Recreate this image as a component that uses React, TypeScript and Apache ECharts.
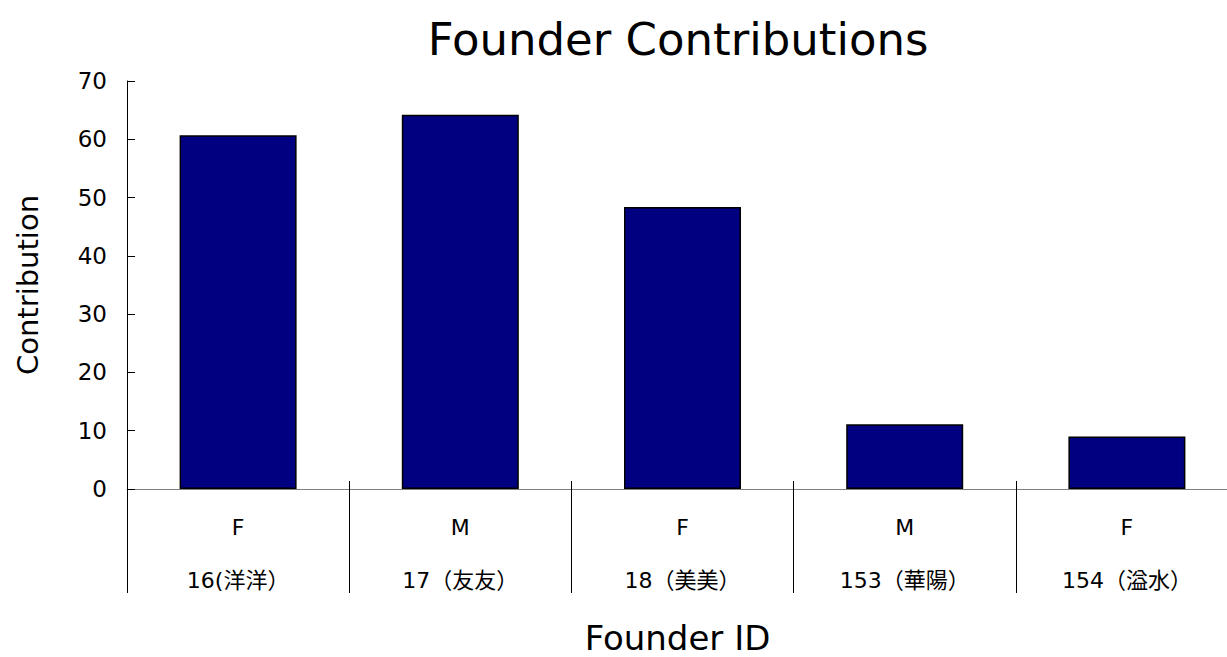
import React, { useEffect, useRef } from "react";
import * as echarts from "echarts";

const genders = ["F", "M", "F", "M", "F"];
const founderIds = ["16(洋洋）", "17（友友）", "18（美美）", "153（華陽）", "154（溢水）"];
const contributions = [60.7, 64.2, 48.4, 11.1, 9.0];
const yTicks = { min: 0, max: 70, interval: 10 };

const FONT = "'DejaVu Sans', 'Noto Sans CJK JP', sans-serif";

export default function App() {
  const ref = useRef<HTMLDivElement>(null);
  useEffect(() => {
    if (!ref.current) return;
    const chart = echarts.init(ref.current, undefined, { renderer: "svg" });
    const categories = genders.map((g, i) => `${g}\n${founderIds[i]}`);
    chart.setOption({
      animation: false,
      backgroundColor: "#ffffff",
      title: {
        text: "Founder Contributions",
        left: 673,
        top: 12,
        textAlign: "center",
        textStyle: { fontFamily: FONT, fontSize: 45, fontWeight: "normal", color: "#000" },
      },
      grid: {
        left: 127,
        top: 81,
        height: 408,
        width: 1111,
        containLabel: false,
        outerBoundsMode: "none",
      },
      xAxis: [
        {
          type: "category",
          data: categories,
          boundaryGap: true,
          axisLine: { show: true, lineStyle: { color: "#808080", width: 1 } },
          axisTick: { show: true, inside: false, length: 104, lineStyle: { color: "#000", width: 1 } },
          axisLabel: {
            fontFamily: FONT,
            fontSize: 22,
            color: "#000",
            lineHeight: 53,
            margin: 12,
            interval: 0,
          },
          name: "Founder ID",
          nameLocation: "middle",
          nameGap: 149,
          nameTextStyle: {
            fontFamily: FONT,
            fontSize: 34,
            lineHeight: 34,
            color: "#000",
            verticalAlign: "middle",
            padding: [0, 10, 0, 0],
          },
        },
        {
          type: "category",
          data: categories,
          boundaryGap: true,
          position: "bottom",
          axisLine: { show: false },
          axisTick: { show: true, inside: true, length: 8, lineStyle: { color: "#000", width: 1 } },
          axisLabel: { show: false },
        },
      ],
      yAxis: {
        type: "value",
        min: yTicks.min,
        max: yTicks.max,
        interval: yTicks.interval,
        axisLine: { show: true, lineStyle: { color: "#000", width: 1 } },
        axisTick: { show: true, inside: true, length: 8, lineStyle: { color: "#000", width: 1 } },
        splitLine: { show: false },
        axisLabel: { fontFamily: FONT, fontSize: 23, color: "#000", margin: 20 },
        name: "Contribution",
        nameLocation: "middle",
        nameGap: 85,
        nameRotate: 90,
        nameTextStyle: { fontFamily: FONT, fontSize: 29, color: "#000" },
      },
      series: [
        {
          type: "bar",
          xAxisIndex: 0,
          data: contributions,
          barWidth: 117,
          itemStyle: { color: "#000080", borderColor: "#000", borderWidth: 1.5 },
        },
      ],
    });
    return () => chart.dispose();
  }, []);
  return <div ref={ref} style={{ width: 1227, height: 657, position: "absolute", left: 0, top: 0 }} />;
}
